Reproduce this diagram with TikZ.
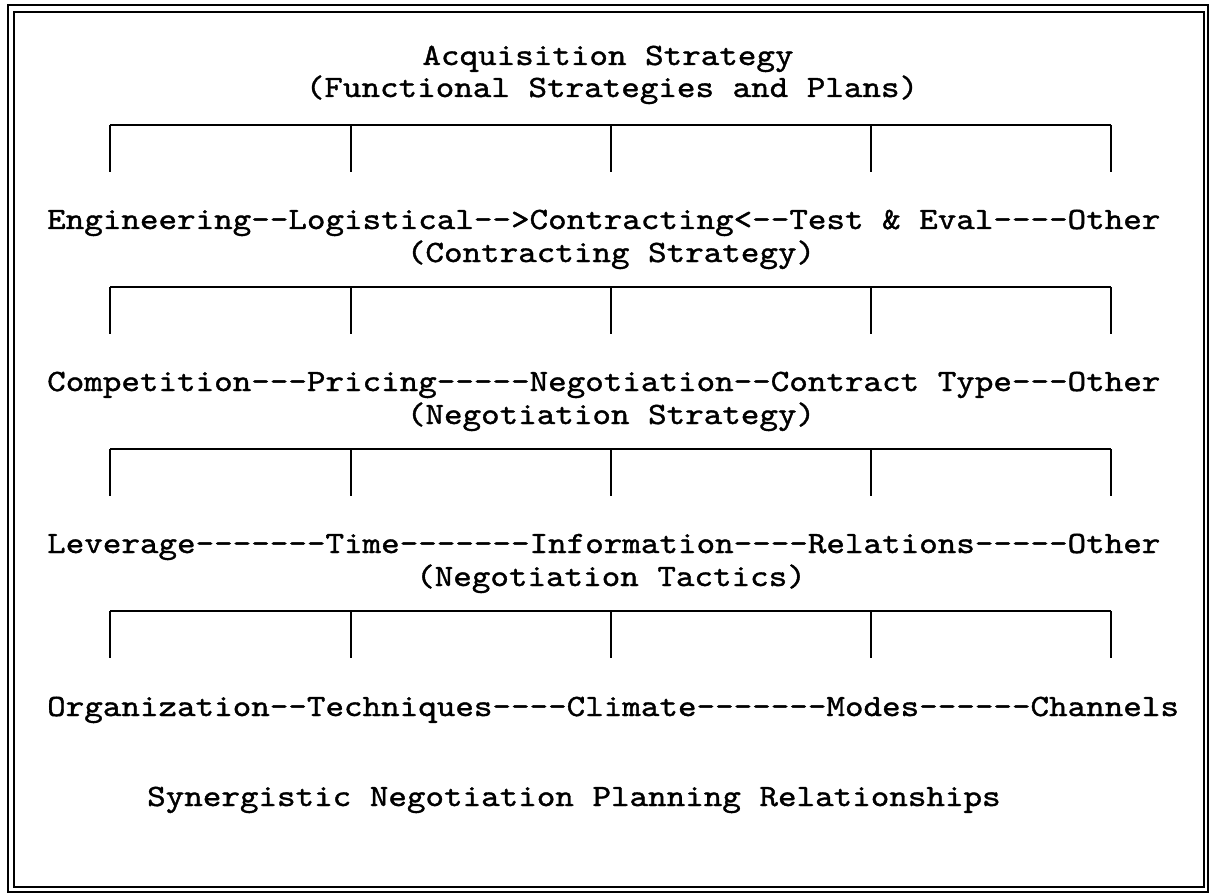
\documentclass[tikz,border=0pt]{standalone}
\usepackage{fontspec}
\newfontfamily\typer{lmmono10-regular.otf}[FakeBold=1.2,FakeStretch=1.14]

\begin{document}
\begin{tikzpicture}[x=1pt,y=-1pt,
  txt/.style={font=\typer\fontsize{31}{36}\selectfont,inner sep=0pt},
  row/.style={txt,anchor=base west},
  mid/.style={txt,anchor=base},
  bracket/.style={line width=1.6pt},
  frame/.style={line width=1.3pt}]
\useasboundingbox (0,0) rectangle (1212,896);
% double frame
\draw[frame] (8,5) rectangle (1208,892);
\draw[frame] (14,12) rectangle (1204,887);
% headings and levels
\node[mid] (acq)  at (608,65)  {Acquisition Strategy};
\node[mid] (func) at (612,97)  {(Functional Strategies and Plans)};
\node[row] (eng)  at (47,229)  {Engineering--Logistical-->Contracting<--Test \& Eval----Other};
\node[mid] (cs)   at (611,262) {(Contracting Strategy)};
\node[row] (comp) at (47,391)  {Competition---Pricing-----Negotiation--Contract Type---Other};
\node[mid] (ns)   at (611,424) {(Negotiation Strategy)};
\node[row] (lev)  at (47,553)  {Leverage-------Time-------Information----Relations-----Other};
\node[mid] (nt)   at (611,586) {(Negotiation Tactics)};
\node[row] (org)  at (47,716)  {Organization--Techniques----Climate-------Modes------Channels};
\node[row] (cap)  at (147,806) {Synergistic Negotiation Planning Relationships};
% brackets between levels
\foreach \k/\y in {1/125,2/287,3/449,4/611} {
  \foreach \i/\x in {1/110,2/351,3/611,4/871,5/1111} {
    \coordinate (t\k-\i) at (\x,\y);
    \coordinate (f\k-\i) at (\x,\y+47);
    \draw[bracket] (t\k-\i) -- (f\k-\i);
  }
  \draw[bracket] (t\k-1) -- (t\k-5);
}
\end{tikzpicture}
\end{document}
